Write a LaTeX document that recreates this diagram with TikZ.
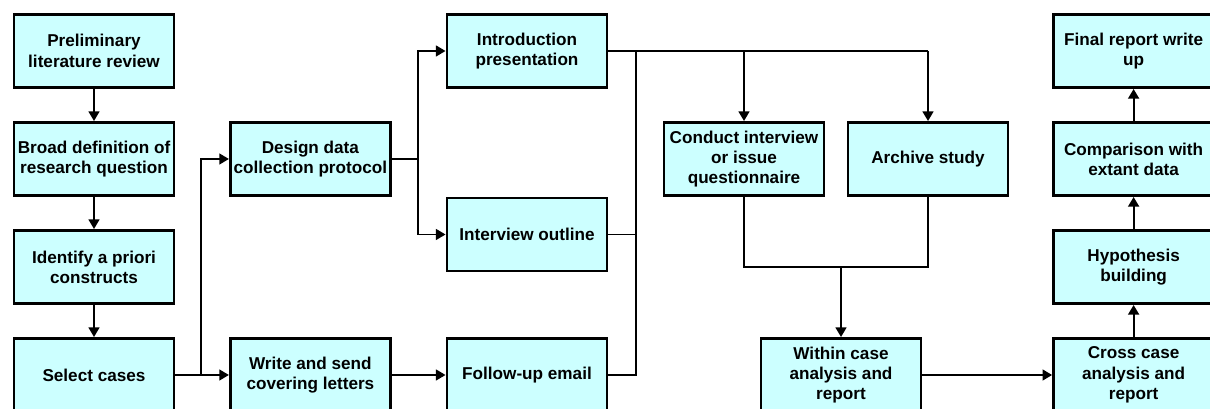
\documentclass[tikz,border=0pt]{standalone}
\usepackage{fontspec}
\setmainfont{Liberation Sans}
\usetikzlibrary{calc, positioning}
\usetikzlibrary{arrows.meta}
\definecolor{boxcyan}{HTML}{CCFFFF}

\begin{document}
\begin{tikzpicture}[
  stage/.style={draw, line width=2.1pt, fill=boxcyan, minimum width=4cm,
    minimum height=1.825cm, inner sep=0pt, align=center,
    font=\fontsize{12.2}{14.4}\selectfont\bfseries},
  link/.style={line width=1.4pt},
  arr/.style={link, -{Triangle[length=2.4mm, width=2.7mm]}}
]
\useasboundingbox (0, 0) rectangle (30.25, 10.225);

\node[stage] (prelim)   at (2.35, 8.95)  {Preliminary\\literature review};
\node[stage] (broad)    at (2.35, 6.25)  {Broad definition of\\research question};
\node[stage] (apriori)  at (2.35, 3.55)  {Identify a priori\\constructs};
\node[stage] (select)   at (2.35, 0.85)  {Select cases};

\node[stage] (design)   at (7.76, 6.25)  {Design data\\collection protocol};
\node[stage] (write)    at (7.76, 0.85)  {Write and send\\covering letters};

\node[stage] (intro)    at (13.175, 8.95)   {Introduction\\presentation};
\node[stage] (outline)  at (13.175, 4.3625) {Interview outline};
\node[stage] (followup) at (13.175, 0.85)   {Follow-up email};

\node[stage] (conduct)  at (18.6, 6.25)   {Conduct interview\\or issue\\questionnaire};
\node[stage] (archive)  at (23.2, 6.25)   {Archive study};
\node[stage] (within)   at (21.025, 0.85) {Within case\\analysis and\\report};

\node[stage] (final)    at (28.34, 8.95) {Final report write\\up};
\node[stage] (compare)  at (28.34, 6.25) {Comparison with\\extant data};
\node[stage] (hypo)     at (28.34, 3.55) {Hypothesis\\building};
\node[stage] (cross)    at (28.34, 0.85) {Cross case\\analysis and\\report};

\coordinate (s1) at (5.025, 0.85);
\coordinate (d1) at (10.45, 6.25);
\coordinate (f1) at (15.9, 8.95);
\coordinate (t1) at (23.2, 8.95);
\coordinate (m1) at (21.025, 3.55);

\draw[arr] (prelim) -- (broad);
\draw[arr] (broad) -- (apriori);
\draw[arr] (apriori) -- (select);
\draw[arr] (select) -- (write);
\draw[arr] (s1) |- (design);

\draw[link] (design) -- (d1);
\draw[arr] (d1) |- (intro);
\draw[arr] (d1) |- (outline);
\draw[arr] (write) -- (followup);

\draw[link] (intro) -- (t1);
\draw[arr] (t1) -- (archive);
\draw[arr] (conduct |- intro) -- (conduct);
\draw[link] (outline) -| (f1);
\draw[link] (followup) -| (f1);

\draw[link] (conduct) |- (m1) -| (archive);
\draw[arr] (m1) -- (within);
\draw[arr] (within) -- (cross);

\draw[arr] (cross) -- (hypo);
\draw[arr] (hypo) -- (compare);
\draw[arr] (compare) -- (final);

\end{tikzpicture}
\end{document}
